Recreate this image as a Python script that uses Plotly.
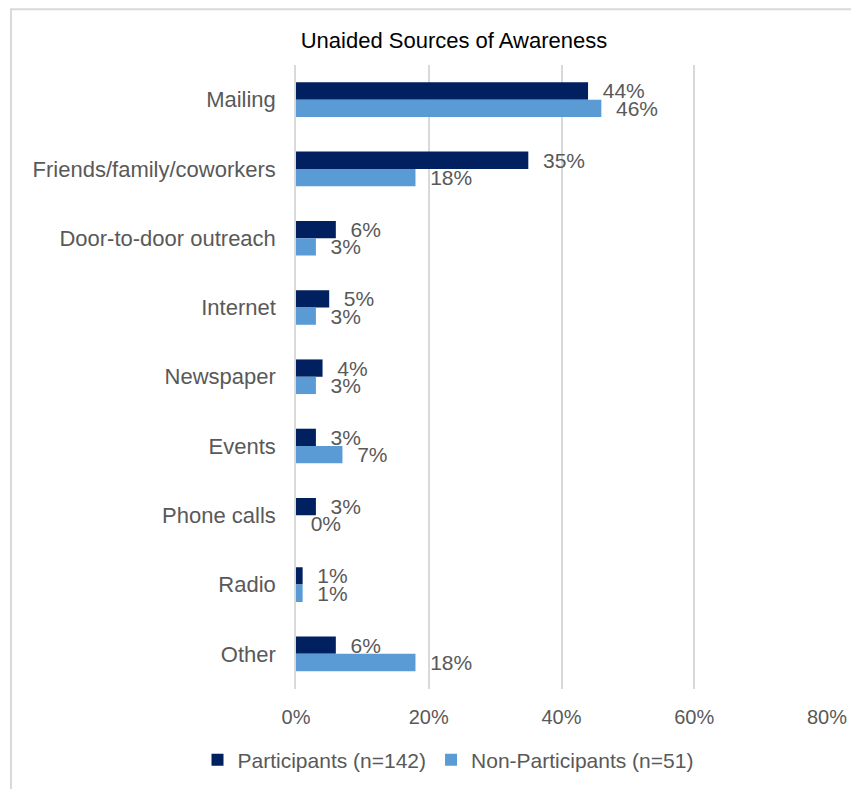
import plotly.graph_objects as go

categories = ["Mailing", "Friends/family/coworkers", "Door-to-door outreach", "Internet",
              "Newspaper", "Events", "Phone calls", "Radio", "Other"]
participants = [44, 35, 6, 5, 4, 3, 3, 1, 6]
non_participants = [46, 18, 3, 3, 3, 7, 0, 1, 18]
series_names = ["Participants (n=142)", "Non-Participants (n=51)"]
tick_vals = [0, 20, 40, 60, 80]
tick_text = ["0%", "20%", "40%", "60%", "80%"]

FONT = "Liberation Sans"
GREY = "#595959"
W, H = 851, 781
L, R, T, B = 288, 32, 57, 99
PW, PH = W - L - R, H - T - B

fig = go.Figure()
for name, vals, color in [(series_names[0], participants, "#002060"),
                          (series_names[1], non_participants, "#5B9BD5")]:
    fig.add_trace(go.Bar(
        y=categories, x=vals, name=name, orientation="h",
        marker=dict(color=color, line=dict(width=0)),
        text=[f"\u00a0\u00a0{v}%" for v in vals], textposition="outside",
        textfont=dict(family=FONT, size=21, color=GREY),
        cliponaxis=False, constraintext="none",
    ))

fig.update_layout(
    width=W, height=H,
    margin=dict(l=L, r=R, t=T, b=B),
    paper_bgcolor="white", plot_bgcolor="white",
    barmode="group", bargap=0.5, bargroupgap=0,
    title=dict(text="Unaided Sources of Awareness", x=446 / W, xanchor="center",
               xref="container", y=1 - 32 / H, yanchor="middle", yref="container",
               font=dict(family=FONT, size=22, color="black")),
    font=dict(family=FONT, color=GREY),
    legend=dict(orientation="h", x=440 / W, xanchor="center", xref="container",
                y=1 - 752 / H, yref="container", yanchor="middle",
                font=dict(family=FONT, size=21, color=GREY),
                itemwidth=30, traceorder="normal"),
    showlegend=True,
)
fig.update_xaxes(range=[0, 80], tickvals=tick_vals, ticktext=tick_text,
                 showgrid=True, gridcolor="#D9D9D9", gridwidth=1.5,
                 zeroline=False, showline=False,
                 tickfont=dict(family=FONT, size=20, color=GREY),
                 ticklabelstandoff=14)
fig.update_yaxes(autorange="reversed", showgrid=False, showline=True,
                 linecolor="#D9D9D9", linewidth=1.5,
                 tickfont=dict(family=FONT, size=22, color=GREY),
                 ticklabelstandoff=14, ticks="")

# chart-area border (in paper coords relative to the plot area)
fig.add_shape(type="rect", xref="paper", yref="paper",
              x0=(3 - L) / PW, x1=(W + 20 - L) / PW,
              y0=-(B + 20) / PH, y1=(H - 1 - B) / PH,
              line=dict(color="#D9D9D9", width=2), fillcolor="rgba(0,0,0,0)",
              layer="below")

fig.write_html("out.html")
